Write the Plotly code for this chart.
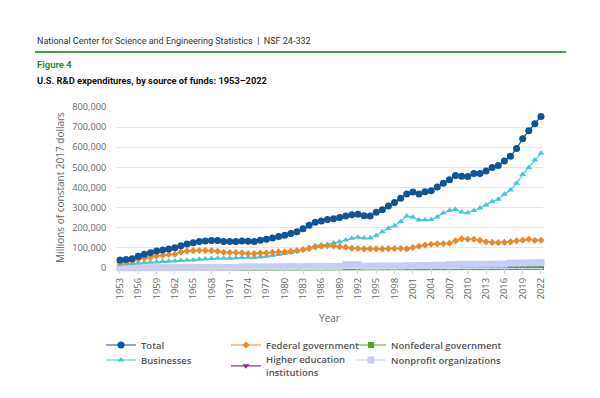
import plotly.graph_objects as go

years = list(range(1953, 2023))

total = [40, 42, 46, 59, 68, 76, 84, 90, 95, 101, 111, 119, 125, 132, 134, 137, 137, 132, 132, 132,
         134, 133, 132, 138, 143, 149, 156, 163, 171, 180, 195, 212, 227, 234, 241, 245, 251, 258, 265, 267,
         260, 259, 277, 289, 308, 326, 346, 368, 378, 368, 379, 384, 402, 421, 439, 460, 456, 455, 469, 469,
         482, 499, 509, 532, 555, 594, 642, 682, 717, 753]

federal = [26, 30, 35, 44, 50, 53, 60, 63, 67, 68, 80, 84, 86, 87, 87, 86, 83, 78, 77, 77,
           75, 72, 72, 74, 75, 78, 80, 80, 83, 87, 91, 96, 104, 108, 111, 110, 106, 103, 98, 97,
           95, 96, 95, 95, 96, 97, 97, 95, 102, 108, 114, 118, 120, 121, 123, 135, 145, 143, 143, 137,
           130, 127, 126, 127, 130, 135, 138, 143, 137, 138]

nonfederal_gov = [0.5, 0.5, 0.6, 0.6, 0.7, 0.7, 0.8, 0.8, 0.9, 0.9, 1.0, 1.0, 1.1, 1.2, 1.2, 1.3, 1.3, 1.4, 1.4, 1.5,
                  1.6, 1.7, 1.8, 1.9, 2.0, 2.1, 2.2, 2.3, 2.3, 2.4, 2.5, 2.6, 2.7, 2.8, 2.9, 3.0, 3.1, 3.2, 3.3, 3.4,
                  3.4, 3.5, 3.5, 3.6, 3.6, 3.7, 3.7, 3.8, 3.9, 4.0, 4.0, 4.1, 4.1, 4.2, 4.3, 4.4, 4.5, 4.5, 4.4, 4.4,
                  4.3, 4.4, 4.5, 4.6, 4.7, 4.8, 4.9, 5.0, 5.1, 5.3]

businesses = [19, 21, 22, 25, 27, 28, 30, 32, 33, 35, 37, 38, 40, 43, 45, 47, 48, 48, 49, 50,
              52, 53, 52, 55, 58, 62, 67, 72, 77, 82, 91, 103, 111, 115, 117, 124, 131, 139, 148, 153,
              149, 149, 162, 180, 197, 210, 231, 258, 252, 238, 240, 241, 254, 273, 286, 291, 278, 274, 286, 298,
              313, 331, 341, 366, 387, 421, 464, 500, 537, 570]

higher_ed = [0.5, 0.5, 0.6, 0.6, 0.7, 0.8, 0.9, 1.0, 1.1, 1.2, 1.3, 1.4, 1.5, 1.6, 1.7, 1.8, 1.9, 2.0, 2.1, 2.2,
             4.0, 4.2, 4.3, 4.4, 4.5, 4.6, 4.7, 4.8, 4.9, 5.0, 5.1, 5.2, 5.3, 5.4, 5.5, 5.6, 5.8, 14.0, 14.5, 14.5,
             7.0, 7.2, 7.4, 7.6, 7.8, 8.0, 8.2, 10.0, 10.5, 10.8, 11.0, 11.2, 11.5, 11.8, 14.5, 15.0, 15.5, 16.0, 16.2, 16.4,
             16.6, 16.8, 17.0, 17.2, 21.0, 21.5, 22.0, 22.5, 23.0, 23.5]

nonprofit = [1.0, 1.0, 1.1, 1.1, 1.2, 1.2, 1.3, 1.4, 1.5, 1.6, 1.7, 1.8, 1.9, 2.0, 2.1, 2.2, 2.3, 2.4, 2.5, 2.6,
             5.5, 5.8, 6.0, 6.0, 6.1, 6.2, 6.3, 6.4, 6.5, 6.6, 6.7, 6.8, 6.9, 7.0, 7.1, 7.2, 7.4, 16.0, 17.0, 17.0,
             9.0, 9.2, 9.4, 9.6, 9.8, 10.0, 10.2, 12.0, 12.5, 12.8, 13.0, 13.2, 13.5, 13.8, 17.0, 17.5, 18.0, 18.5, 18.5, 18.7,
             19.0, 19.2, 19.5, 19.8, 24.0, 24.5, 25.0, 25.5, 26.0, 26.5]

x_ticks = list(range(1953, 2023, 3))
y_ticks = list(range(0, 800001, 100000))

series = [
    # name, values (thousands of millions), color, symbol, size, legend id
    ("Nonfederal government", nonfederal_gov, "#5aa02c", "square", 6, "legend3"),
    ("Higher education<br>institutions", higher_ed, "#8a2b8a", "triangle-down", 6, "legend5"),
    ("Nonprofit organizations", nonprofit, "#c7cdf3", "square", 7, "legend6"),
    ("Businesses", businesses, "#47c6d6", "triangle-up", 6, "legend4"),
    ("Federal government", federal, "#e8892b", "diamond", 5.5, "legend2"),
    ("Total", total, "#0f5596", "circle", 7, "legend"),
]

fig = go.Figure()
for name, vals, color, sym, size, leg in series:
    fig.add_trace(go.Scatter(
        x=years, y=[v * 1000 for v in vals], name=name, mode="lines+markers",
        line=dict(color=color, width=1.2),
        marker=dict(color=color, symbol=sym, size=size),
        cliponaxis=False, legend=leg, showlegend=True,
    ))

# page has an 8px body margin; work in page coordinates and subtract it
OFF = 8
W, H = 600, 398
L, T = 116 - OFF, 107 - OFF
pw, ph = 427, 161
R, B = W - L - pw, H - T - ph

def px(x):
    return (x - OFF - L) / pw

def py(y):
    return (T + ph - (y - OFF)) / ph

hdr_font = "Roboto, sans-serif"

leg_common = dict(orientation="v", xref="paper", yref="paper", xanchor="left", yanchor="top",
                  itemwidth=30, font=dict(family="Open Sans", size=9.5, color="#555555", weight=600),
                  bgcolor="rgba(0,0,0,0)", tracegroupgap=0)

col_x = [101, 226, 351]
fig.update_layout(
    width=W, height=H,
    showlegend=True,
    margin=dict(l=L, r=R, t=T, b=B),
    paper_bgcolor="white", plot_bgcolor="white",
    font=dict(family="Open Sans", size=9.5, color="#666666"),
    legend=dict(x=px(col_x[0]), y=py(330.5), **leg_common),
    legend2=dict(x=px(col_x[1]), y=py(330.5), **leg_common),
    legend3=dict(x=px(col_x[2]), y=py(330.5), **leg_common),
    legend4=dict(x=px(col_x[0]), y=py(345.5), **leg_common),
    legend5=dict(x=px(col_x[1]), y=py(347), **leg_common),
    legend6=dict(x=px(col_x[2]), y=py(345.5), **leg_common),
    xaxis=dict(
        range=[1952.35, 2022.33], tickmode="array", tickvals=x_ticks,
        ticktext=[str(v) for v in x_ticks], tickangle=-90,
        tickfont=dict(size=9.5, color="#666666"),
        ticks="outside", ticklen=5, tickcolor="#ccd6eb",
        showline=True, linecolor="#ccd6eb", showgrid=False, zeroline=False,
        title=dict(text="Year", font=dict(size=10, color="#666666"), standoff=16),
    ),
    yaxis=dict(
        range=[0, 800000], tickmode="array", tickvals=y_ticks,
        ticktext=[f"{v:,}" for v in y_ticks],
        tickfont=dict(size=9.2, color="#666666"),
        ticks="outside", ticklen=7, tickcolor="rgba(0,0,0,0)",
        showgrid=True, gridcolor="#e6e6e6", gridwidth=1, zeroline=False,
        title=dict(text="Millions of constant 2017 dollars", font=dict(size=10, color="#666666"), standoff=5),
    ),
)

fig.add_annotation(x=px(35), y=py(41), xref="paper", yref="paper", xanchor="left", yanchor="middle",
                   text="National Center for Science and Engineering Statistics  |  NSF 24-332",
                   showarrow=False, font=dict(family=hdr_font, size=9, color="#333333"))
fig.add_annotation(x=px(35), y=py(65), xref="paper", yref="paper", xanchor="left", yanchor="middle",
                   text="<b>Figure 4</b>", showarrow=False,
                   font=dict(family=hdr_font, size=9.5, color="#2f8a3a"))
fig.add_annotation(x=px(35), y=py(80), xref="paper", yref="paper", xanchor="left", yanchor="middle",
                   text="<b>U.S. R&D expenditures, by source of funds: 1953–2022</b>", showarrow=False,
                   font=dict(family=hdr_font, size=9.3, color="#111111"))
fig.add_shape(type="line", xref="paper", yref="paper", x0=px(35), x1=px(566), y0=py(52), y1=py(52),
              line=dict(color="#4e9a53", width=2))

fig.write_html("out.html")
